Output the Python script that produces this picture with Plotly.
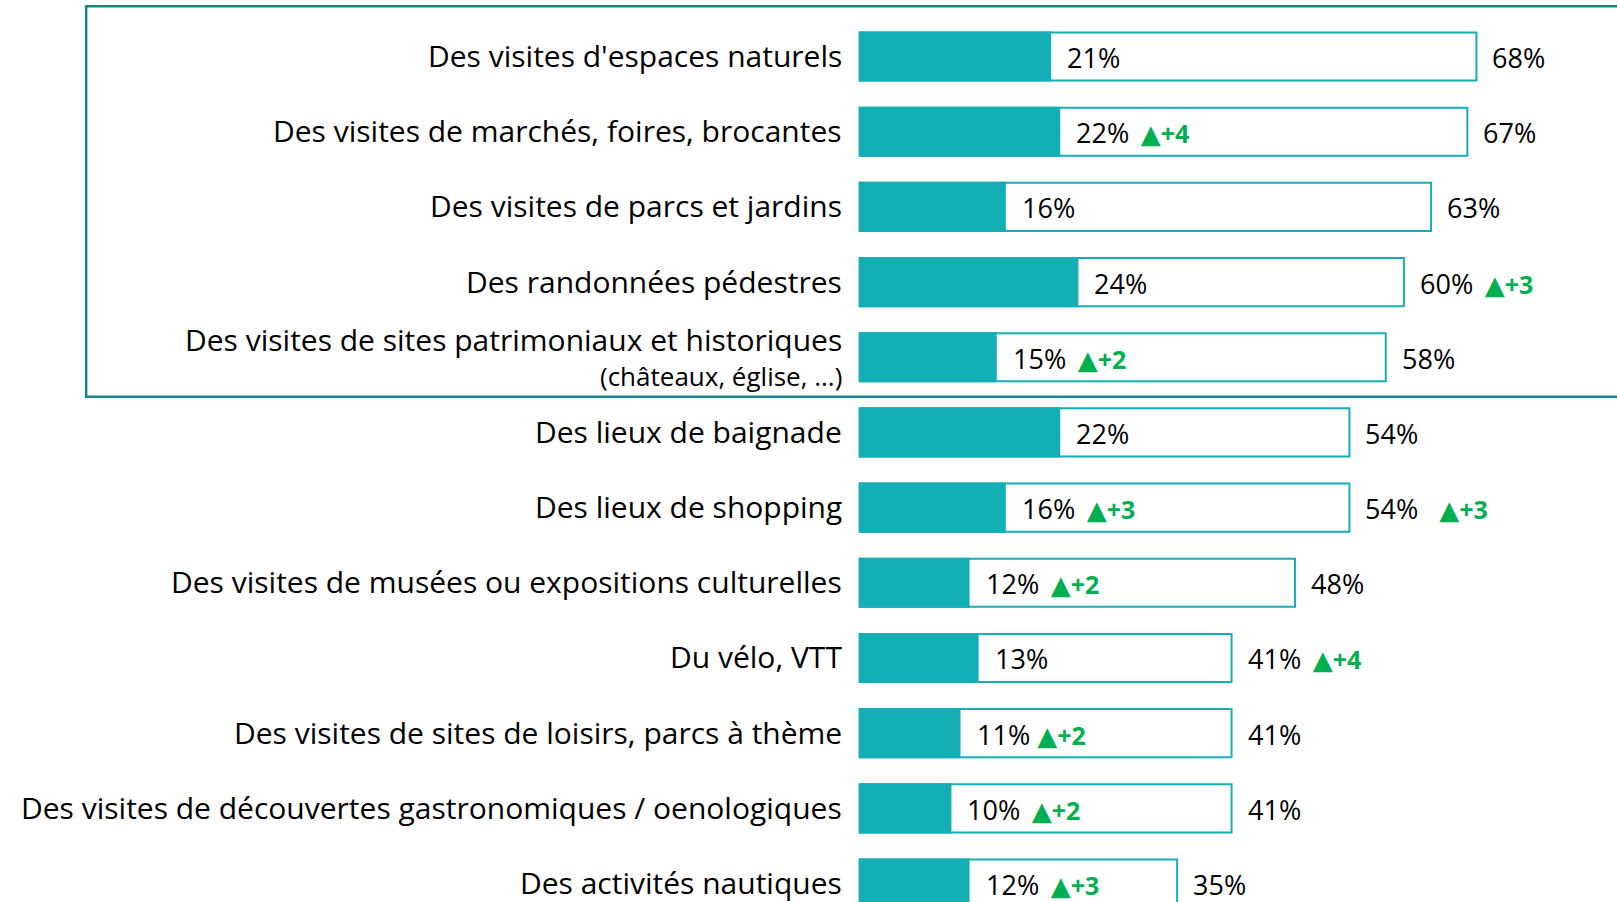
import plotly.graph_objects as go

# ---- data ----
categories = [
    "Des visites d'espaces naturels",
    "Des visites de marchés, foires, brocantes",
    "Des visites de parcs et jardins",
    "Des randonnées pédestres",
    "Des visites de sites patrimoniaux et historiques",
    "Des lieux de baignade",
    "Des lieux de shopping",
    "Des visites de musées ou expositions culturelles",
    "Du vélo, VTT",
    "Des visites de sites de loisirs, parcs à thème",
    "Des visites de découvertes gastronomiques / oenologiques",
    "Des activités nautiques",
]
sublabels = ["", "", "", "", "(châteaux, église, ...)", "", "", "", "", "", "", ""]
first_choice = [21, 22, 16, 24, 15, 22, 16, 12, 13, 11, 10, 12]
total = [68, 67, 63, 60, 58, 54, 54, 48, 41, 41, 41, 35]
delta_first = [None, 4, None, None, 2, None, 3, 2, None, 2, 2, 3]
delta_total = [None, None, None, 3, None, None, 3, None, 4, None, None, None]

TEAL = "#14AEB5"
BOX = "#178587"
GREEN = "#00B050"
FONT = "Open Sans"
FS = 27
LFS = 30

fig = go.Figure()
fig.add_trace(go.Bar(
    y=categories, x=total, orientation="h", width=0.64,
    marker=dict(color="white", line=dict(color=TEAL, width=2)),
    hoverinfo="skip", showlegend=False,
))
fig.add_trace(go.Bar(
    y=categories, x=first_choice, orientation="h", width=0.64,
    marker=dict(color=TEAL, line=dict(color=TEAL, width=2)),
    hoverinfo="skip", showlegend=False,
))

def delta_html(d, sep=" \u2009"):
    if d is None:
        return ""
    return (f"{sep}<span style='color:{GREEN};font-family:DejaVu Sans;font-size:26px'>▲</span>"
            f"<span style='color:{GREEN};font-size:25px'><b>+{d}</b></span>")

annotations = []
for i, cat in enumerate(categories):
    sep_in = " " if first_choice[i] == 11 else " \u2009"
    annotations.append(dict(
        x=first_choice[i], y=cat, xref="x", yref="y", xanchor="left", yanchor="middle",
        xshift=15, yshift=-1, showarrow=False,
        text=f"{first_choice[i]}%" + delta_html(delta_first[i], sep_in),
        font=dict(family=FONT, size=FS, color="black"),
    ))
    sep_out = "\u00a0\u00a0 " if (total[i] == 54 and delta_total[i]) else " \u2009"
    annotations.append(dict(
        x=total[i], y=cat, xref="x", yref="y", xanchor="left", yanchor="middle",
        xshift=14, yshift=-1, showarrow=False,
        text=f"{total[i]}%" + delta_html(delta_total[i], sep_out),
        font=dict(family=FONT, size=FS, color="black"),
    ))
    if sublabels[i]:
        annotations.append(dict(
            x=0, y=cat, xref="x", yref="y", xanchor="right", yanchor="middle",
            xshift=-16, yshift=18, showarrow=False, text=cat,
            font=dict(family=FONT, size=LFS, color="black"),
        ))
        annotations.append(dict(
            x=0, y=cat, xref="x", yref="y", xanchor="right", yanchor="middle",
            xshift=-16, yshift=-19, showarrow=False, text=sublabels[i],
            font=dict(family=FONT, size=26, color="black"),
        ))
    else:
        annotations.append(dict(
            x=0, y=cat, xref="x", yref="y", xanchor="right", yanchor="middle",
            xshift=-16, yshift=1, showarrow=False, text=cat,
            font=dict(family=FONT, size=LFS, color="black"),
        ))

fig.update_layout(
    width=1617, height=902,
    margin=dict(l=0, r=0, t=0, b=0),
    paper_bgcolor="white", plot_bgcolor="white",
    barmode="overlay",
    annotations=annotations,
    shapes=[dict(
        type="rect", xref="x", yref="y",
        x0=-85.3, x1=95, y0=-0.668, y1=4.525,
        line=dict(color=BOX, width=2.5), fillcolor="rgba(0,0,0,0)", layer="above",
    )],
    xaxis=dict(range=[-94.8, 83.5], visible=False, fixedrange=True),
    yaxis=dict(type="category", range=[11.246, -0.752], visible=False,
               categoryorder="array", categoryarray=categories, fixedrange=True),
)

fig.write_html(
    "out.html",
    config={"displayModeBar": False},
    post_script="document.body.style.margin='0';document.body.style.overflow='hidden';",
)
